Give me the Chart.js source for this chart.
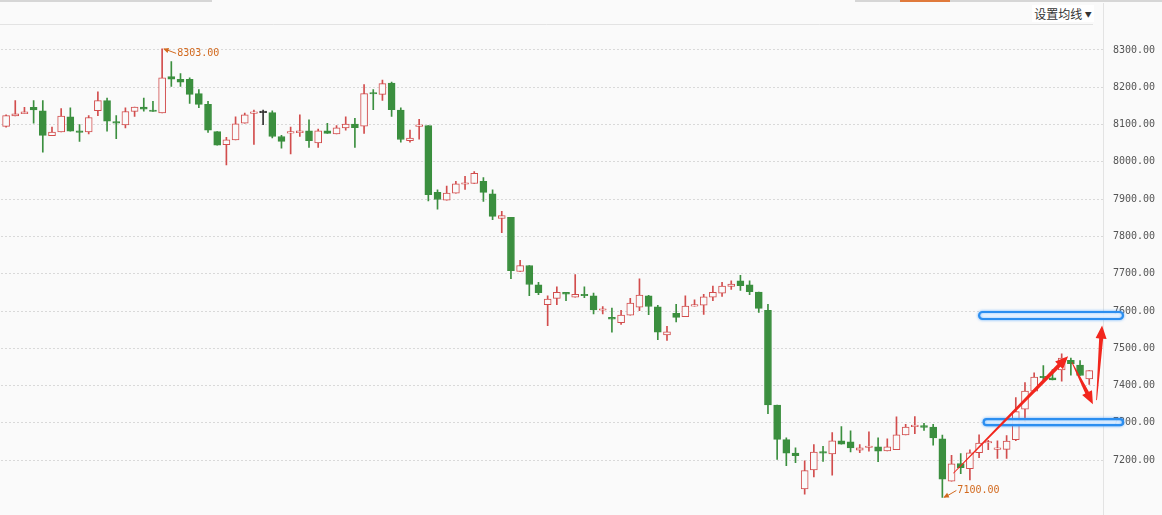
<!DOCTYPE html>
<html>
<head>
<meta charset="utf-8">
<title>K线</title>
<script src="https://cdn.jsdelivr.net/npm/chart.js@4.4.1/dist/chart.umd.min.js"></script>
<style>
  html, body { margin: 0; padding: 0; background: #fafafa; }
  #wrap { position: relative; width: 1162px; height: 515px; overflow: hidden; }
  .tab { position: absolute; top: 0; height: 2px; background: #d6d6d6; }
  #maBtn {
    position: absolute; left: 1032px; top: 5px; width: 62px; height: 17px;
    background: #fff; color: #333; font: 12px "Noto Sans CJK SC", sans-serif;
    line-height: 17px; text-align: center;
  }
  #maBtn span { font-size: 7px; vertical-align: 2px; }
</style>
</head>
<body>
<div id="wrap">
  <div class="tab" style="left:0;width:212px"></div>
  <div class="tab" style="left:855px;width:307px"></div>
  <div class="tab" style="left:900px;width:50px;background:#e07a3c"></div>
  <canvas id="kChart"></canvas>
  <div id="maBtn">设置均线 <span>▼</span></div>
</div>
<script>
// daily candles
const opens = [8095, 8123, 8129, 8146, 8137, 8070, 8080, 8121, 8082, 8080,
  8137, 8164, 8108, 8099, 8135, 8147, 8138, 8131, 8229, 8221,
  8221, 8183, 8154, 8081, 8046, 8059, 8104, 8130, 8132, 8132,
  8068, 8077, 8078, 8083, 8051, 8083, 8075, 8091, 8101, 8096,
  8186, 8181, 8211, 8139, 8057, 8095, 8097, 7918, 7897, 7916,
  7940, 7942, 7948, 7914, 7848, 7851, 7706, 7722, 7670, 7617,
  7634, 7650, 7637, 7645, 7641, 7602, 7583, 7569, 7589, 7610,
  7641, 7611, 7536, 7594, 7585, 7613, 7616, 7637, 7648, 7666,
  7681, 7670, 7651, 7602, 7348, 7255, 7219, 7123, 7174, 7223,
  7217, 7252, 7249, 7227, 7234, 7236, 7225, 7228, 7268, 7290,
  7293, 7289, 7257, 7144, 7191, 7177, 7220, 7246, 7229, 7229,
  7255, 7337, 7385, 7424, 7421, 7442, 7468, 7455, 7418];
const highs = [8126, 8164, 8146, 8164, 8164, 8093, 8143, 8145, 8100, 8124,
  8188, 8171, 8124, 8145, 8147, 8171, 8162, 8303, 8269, 8237,
  8225, 8194, 8162, 8081, 8066, 8121, 8131, 8139, 8139, 8137,
  8071, 8093, 8126, 8113, 8088, 8103, 8097, 8121, 8117, 8207,
  8194, 8219, 8214, 8145, 8085, 8114, 8097, 7925, 7935, 7948,
  7961, 7974, 7958, 7925, 7867, 7851, 7736, 7722, 7677, 7641,
  7665, 7650, 7698, 7665, 7648, 7612, 7608, 7602, 7634, 7686,
  7642, 7615, 7559, 7618, 7641, 7630, 7645, 7667, 7677, 7681,
  7696, 7681, 7651, 7618, 7348, 7260, 7233, 7198, 7242, 7237,
  7274, 7290, 7279, 7242, 7276, 7260, 7257, 7316, 7296, 7317,
  7299, 7296, 7267, 7213, 7218, 7228, 7268, 7253, 7252, 7266,
  7368, 7408, 7434, 7454, 7443, 7485, 7474, 7467, 7440];
const lows = [8093, 8123, 8129, 8104, 8026, 8070, 8080, 8082, 8055, 8075,
  8124, 8082, 8062, 8091, 8122, 8136, 8135, 8131, 8202, 8202,
  8157, 8145, 8079, 8045, 7992, 8059, 8104, 8047, 8100, 8064,
  8037, 8021, 8068, 8039, 8039, 8076, 8075, 8085, 8039, 8076,
  8140, 8165, 8122, 8053, 8053, 8061, 7895, 7873, 7897, 7916,
  7926, 7942, 7894, 7845, 7810, 7687, 7706, 7641, 7644, 7561,
  7617, 7628, 7637, 7636, 7592, 7592, 7543, 7564, 7589, 7601,
  7590, 7523, 7521, 7571, 7585, 7613, 7591, 7628, 7639, 7658,
  7655, 7644, 7596, 7325, 7202, 7185, 7193, 7109, 7155, 7197,
  7160, 7243, 7222, 7220, 7224, 7196, 7225, 7228, 7268, 7271,
  7280, 7240, 7100, 7144, 7164, 7147, 7207, 7228, 7205, 7205,
  7252, 7303, 7385, 7415, 7415, 7412, 7428, 7427, 7403];
const closes = [8124, 8129, 8134, 8139, 8071, 8080, 8123, 8082, 8079, 8119,
  8164, 8109, 8104, 8135, 8147, 8141, 8135, 8225, 8222, 8214,
  8181, 8154, 8085, 8045, 8059, 8102, 8126, 8132, 8132, 8068,
  8055, 8080, 8083, 8057, 8083, 8076, 8091, 8101, 8092, 8183,
  8182, 8210, 8140, 8060, 8064, 8097, 7912, 7899, 7916, 7941,
  7942, 7969, 7918, 7854, 7856, 7708, 7722, 7671, 7649, 7632,
  7650, 7645, 7645, 7641, 7603, 7605, 7578, 7589, 7621, 7643,
  7612, 7543, 7544, 7583, 7613, 7617, 7638, 7650, 7667, 7672,
  7668, 7652, 7607, 7348, 7256, 7219, 7212, 7172, 7222, 7219,
  7252, 7243, 7233, 7233, 7236, 7224, 7236, 7268, 7289, 7292,
  7288, 7260, 7149, 7190, 7180, 7220, 7246, 7249, 7232, 7251,
  7330, 7385, 7423, 7421, 7415, 7474, 7459, 7427, 7440];

const yTicks = [7200, 7300, 7400, 7500, 7600, 7700, 7800, 7900, 8000, 8100, 8200, 8300];
// one spare slot at the right end, like the original
const categories = opens.map((_, i) => String(i + 1)).concat(['']);

// hand-drawn marks on the screenshot (index, price)
const zoneLevels = [7588, 7302];
const zoneStarts = [106.0, 106.5];
const arrowPaths = [
  [[103.2, 7165], [115.7, 7479]],
  [[116.1, 7463], [118.4, 7350]],
  [[118.8, 7361], [119.4, 7561]]
];

const RED = '#d24d4d';
const GREEN = '#3b8f3f';
const DOJI = '#333333';
const BG = '#fafafa';

function candleColor(i) {
  if (closes[i] > opens[i]) return RED;
  if (closes[i] < opens[i]) return GREEN;
  return DOJI;
}

function drawArrow(ctx, x1, y1, x2, y2) {
  const dx = x2 - x1, dy = y2 - y1, len = Math.hypot(dx, dy);
  const ux = dx / len, uy = dy / len, nx = -uy, ny = ux;
  const headL = 13, headW = 5.5, w0 = 0.8, w1 = 4;
  const bx = x2 - ux * headL, by = y2 - uy * headL;
  ctx.beginPath();
  ctx.moveTo(x1 + nx * w0 / 2, y1 + ny * w0 / 2);
  ctx.lineTo(bx + nx * w1 / 2, by + ny * w1 / 2);
  ctx.lineTo(bx + nx * headW, by + ny * headW);
  ctx.lineTo(x2, y2);
  ctx.lineTo(bx - nx * headW, by - ny * headW);
  ctx.lineTo(bx - nx * w1 / 2, by - ny * w1 / 2);
  ctx.lineTo(x1 - nx * w0 / 2, y1 - ny * w0 / 2);
  ctx.closePath();
  ctx.fill();
}

function extremeLabel(ctx, x, y, dy, text) {
  const tx = x + 15, ty = y + dy;
  const ang = Math.atan2(ty - y, tx - x);
  ctx.strokeStyle = '#d2691e';
  ctx.fillStyle = '#d2691e';
  ctx.lineWidth = 1;
  ctx.beginPath();
  ctx.moveTo(x + 2, y);
  ctx.lineTo(tx - 1, ty);
  ctx.stroke();
  ctx.beginPath();
  ctx.moveTo(x + 1, y);
  ctx.lineTo(x + 1 + 6 * Math.cos(ang - 0.45), y + 6 * Math.sin(ang - 0.45));
  ctx.lineTo(x + 1 + 6 * Math.cos(ang + 0.45), y + 6 * Math.sin(ang + 0.45));
  ctx.closePath();
  ctx.fill();
  ctx.font = '10px "DejaVu Sans Mono"';
  ctx.textBaseline = 'middle';
  ctx.textAlign = 'left';
  ctx.fillText(text, tx, ty);
}

const decor = {
  id: 'decor',
  beforeDraw(chart) {
    const { ctx, chartArea: a } = chart;
    ctx.save();
    ctx.fillStyle = BG;
    ctx.fillRect(0, 0, chart.width, chart.height);
    ctx.strokeStyle = '#e3e3e3';
    ctx.lineWidth = 1;
    ctx.beginPath();
    ctx.moveTo(0, a.top - 0.5);
    ctx.lineTo(a.right - 10, a.top - 0.5);
    ctx.moveTo(a.right + 0.5, 3);
    ctx.lineTo(a.right + 0.5, chart.height);
    ctx.stroke();
    ctx.restore();
  },
  afterDatasetsDraw(chart) {
    const { ctx, chartArea: a } = chart;
    const xs = chart.scales.x, ys = chart.scales.y;
    const x0 = xs.getPixelForValue(0);
    const step = xs.getPixelForValue(1) - x0;
    const xAt = idx => x0 + idx * step;
    ctx.save();

    // highest high / lowest low
    let hi = 0, lo = 0;
    highs.forEach((v, i) => { if (v > highs[hi]) hi = i; });
    lows.forEach((v, i) => { if (v < lows[lo]) lo = i; });
    extremeLabel(ctx, xAt(hi), ys.getPixelForValue(highs[hi]), 4.5, highs[hi].toFixed(2));
    extremeLabel(ctx, xAt(lo), ys.getPixelForValue(lows[lo]), -7, lows[lo].toFixed(2));

    // blue boxes
    zoneLevels.forEach((lvl, k) => {
      const yc = ys.getPixelForValue(lvl);
      const left = xAt(zoneStarts[k]);
      const right = a.right + 20;
      const h = k === 0 ? 7 : 6;
      ctx.shadowColor = 'rgba(70,160,255,0.7)';
      ctx.shadowBlur = 3;
      ctx.strokeStyle = '#2b8ef0';
      ctx.lineWidth = 2.2;
      ctx.fillStyle = 'rgba(255,255,255,0.85)';
      ctx.beginPath();
      ctx.roundRect(left, yc - h / 2, right - left, h, h / 2);
      ctx.fill();
      ctx.stroke();
    });
    ctx.shadowBlur = 0;

    // red arrows
    ctx.fillStyle = '#f2261d';
    arrowPaths.forEach(p => {
      drawArrow(ctx, xAt(p[0][0]), ys.getPixelForValue(p[0][1]),
        xAt(p[1][0]), ys.getPixelForValue(p[1][1]));
    });
    ctx.restore();
  }
};

const wickData = lows.map((l, i) => [l, highs[i]]);
const bodyData = opens.map((o, i) => [o, closes[i]]);

new Chart(document.getElementById('kChart'), {
  type: 'bar',
  data: {
    labels: categories,
    datasets: [{
      label: 'body',
      data: bodyData,
      order: 1,
      grouped: false,
      barThickness: 7,
      minBarLength: 1.5,
      borderWidth: 1,
      borderSkipped: false,
      borderColor: c => candleColor(c.dataIndex),
      backgroundColor: c => closes[c.dataIndex] > opens[c.dataIndex] ? BG : candleColor(c.dataIndex)
    }, {
      label: 'wick',
      data: wickData,
      order: 2,
      grouped: false,
      barThickness: 1,
      borderWidth: 0,
      backgroundColor: c => candleColor(c.dataIndex)
    }]
  },
  options: {
    responsive: true,
    maintainAspectRatio: false,
    animation: false,
    layout: { padding: { top: 25, left: 1.5, bottom: 0, right: 0 } },
    plugins: {
      legend: { display: false },
      tooltip: { enabled: false }
    },
    scales: {
      x: {
        display: false,
        offset: true,
        grid: { display: false }
      },
      y: {
        position: 'right',
        min: 7053,
        max: 8367,
        afterBuildTicks: s => { s.ticks = yTicks.map(v => ({ value: v })); },
        afterFit: s => {
          s.width = 59;
          s.paddingTop = 0;
          s.paddingBottom = 0;
        },
        border: { display: false, dash: [1, 3] },
        grid: { color: '#b8b8b8', drawTicks: false },
        ticks: {
          padding: 10,
          color: '#555',
          font: { family: 'DejaVu Sans Mono', size: 10 },
          callback: v => Number(v).toFixed(2)
        }
      }
    }
  },
  plugins: [decor]
});
</script>
</body>
</html>
